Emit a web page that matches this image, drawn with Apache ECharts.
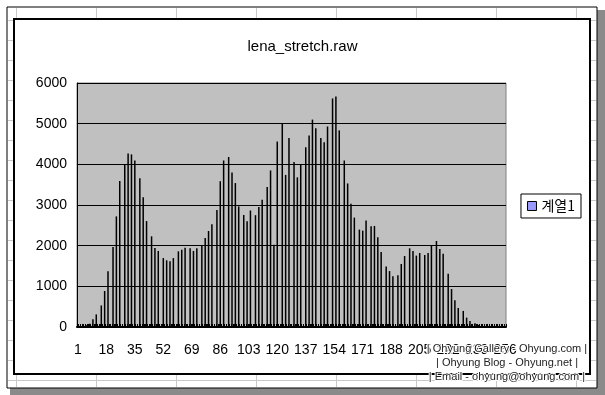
<!DOCTYPE html>
<html><head><meta charset="utf-8">
<script src="https://cdn.jsdelivr.net/npm/echarts@6/dist/echarts.min.js"></script>
<style>html,body{margin:0;padding:0;background:#fff;}#c{width:605px;height:395px;}</style>
</head><body><div id="c"></div>
<script>
const chartTitle = 'lena_stretch.raw';
const seriesName = '계열1';
// histogram bins (1-based category) that hold a count after the stretch
const binCategories = [1,3,6,8,10,12,15,17,19,22,24,26,29,31,33,35,38,40,42,45,47,49,52,54,56,58,61,63,65,68,70,72,75,77,79,81,84,86,88,91,93,95,97,100,102,104,107,109,111,114,116,118,120,123,125,127,130,132,134,137,139,141,143,146,148,150,153,155,157,160,162,164,166,169,171,173,176,178,180,182,185,187,189,192,194,196,199,201,203,205,208,210,212,215,217,219,222,224,226,228,231,233,235,238,240,242,245,247,249,251,254,256];
// counts, one per bin above
const binValues = [10,20,40,80,190,310,530,885,1370,1965,2720,3590,3990,4265,4245,4095,3660,3190,2605,2230,1940,1870,1695,1640,1615,1695,1860,1900,1950,1935,1870,1935,2005,2190,2360,2525,2880,3585,4095,4180,3800,3540,2965,2755,2600,2865,2750,2950,3130,3440,3850,2025,4560,5000,3740,4650,4055,3680,3990,4420,4710,5100,4890,4645,4540,4930,5620,5670,4835,4095,3530,3030,2690,2395,2370,2620,2480,2485,2210,1845,1490,1375,1245,1270,1550,1745,1935,1870,1755,1820,1770,1820,2000,2115,1915,1800,1310,935,655,465,395,230,150,90,50,30,20,10,10,10,5,5];
const yTickValues = [0,1000,2000,3000,4000,5000,6000];
const watermarkLines = ['| Ohyung Gallery - Ohyung.com |','| Ohyung Blog - Ohyung.net |','| Email - ohyung@ohyung.com |'];

const categories = [];
for (let i = 1; i <= 256; i++) categories.push(String(i));
const values = categories.map(() => 0);
binCategories.forEach((c, j) => { values[c - 1] = binValues[j]; });

const FONT = '"Liberation Sans", Arial, sans-serif';

// spreadsheet decoration (outside chart area)
const deco = [];
deco.push({type:'rect', z:-10, shape:{x:10,y:10,width:595,height:385}, style:{fill:'#8a8a8a'}});
deco.push({type:'rect', z:-9, shape:{x:7,y:7,width:590,height:381}, style:{fill:'#fff', stroke:'#000', lineWidth:1}});
for (let x = 16; x < 597; x += 80) {
  deco.push({type:'line', z:-8, shape:{x1:x+0.5,y1:8,x2:x+0.5,y2:387}, style:{stroke:'#c8c8c8', lineWidth:1}});
}
for (let y = 20; y < 388; y += 20) {
  deco.push({type:'line', z:-8, shape:{x1:8,y1:y+0.5,x2:596,y2:y+0.5}, style:{stroke:'#c8c8c8', lineWidth:1}});
}
deco.push({type:'rect', z:-7, shape:{x:14,y:19,width:576,height:355}, style:{fill:'#fff', stroke:'#000', lineWidth:2}});
watermarkLines.forEach((t, i) => {
  deco.push({type:'text', z:100, style:{text:t, x:507, y:349 + i*14, align:'center', verticalAlign:'middle',
    font:'11px "Liberation Sans", sans-serif', fill:'#222', stroke:'#fff', lineWidth:2}});
});

const chart = echarts.init(document.getElementById('c'), null, {renderer:'canvas'});
chart.setOption({
  animation: false,
  backgroundColor: '#fff',
  title: {text: chartTitle, left: 'center', top: 34,
    textStyle: {fontFamily: FONT, fontSize: 15, fontWeight: 'normal', color: '#000'}},
  legend: {
    orient: 'vertical', right: 24, top: 194,
    backgroundColor: '#fff', borderColor: '#000', borderWidth: 1, borderRadius: 0,
    padding: [5, 6, 5, 6], itemWidth: 9, itemHeight: 9, itemGap: 4, icon: 'rect',
    textStyle: {fontFamily: '"Noto Sans CJK KR", sans-serif', fontSize: 14, color: '#000'},
    data: [{name: seriesName, itemStyle: {color: '#9999FF', borderColor: '#000', borderWidth: 1}}]
  },
  grid: {left: 77, right: 99, top: 83, bottom: 68, show: true,
    backgroundColor: '#C0C0C0', borderColor: '#808080', borderWidth: 1},
  xAxis: {
    type: 'category', data: categories, boundaryGap: true,
    axisLine: {lineStyle: {color: '#000', width: 2}},
    axisTick: {show: true, inside: true, interval: 0, length: 3, lineStyle: {color: '#000', width: 1}},
    axisLabel: {interval: 16, color: '#000', fontFamily: FONT, fontSize: 14, margin: 16}
  },
  yAxis: {
    type: 'value', min: yTickValues[0], max: yTickValues[yTickValues.length-1], interval: 1000,
    axisLine: {show: true, lineStyle: {color: '#000', width: 1}},
    axisTick: {show: false},
    splitLine: {show: true, lineStyle: {color: '#000', width: 1}},
    axisLabel: {color: '#000', fontFamily: FONT, fontSize: 14, margin: 10, formatter: v => String(v)}
  },
  series: [{
    name: seriesName, type: 'bar', data: values, barWidth: 1.5, silent: true,
    itemStyle: {color: '#000'}
  }],
  graphic: deco
});
</script>
</body></html>
